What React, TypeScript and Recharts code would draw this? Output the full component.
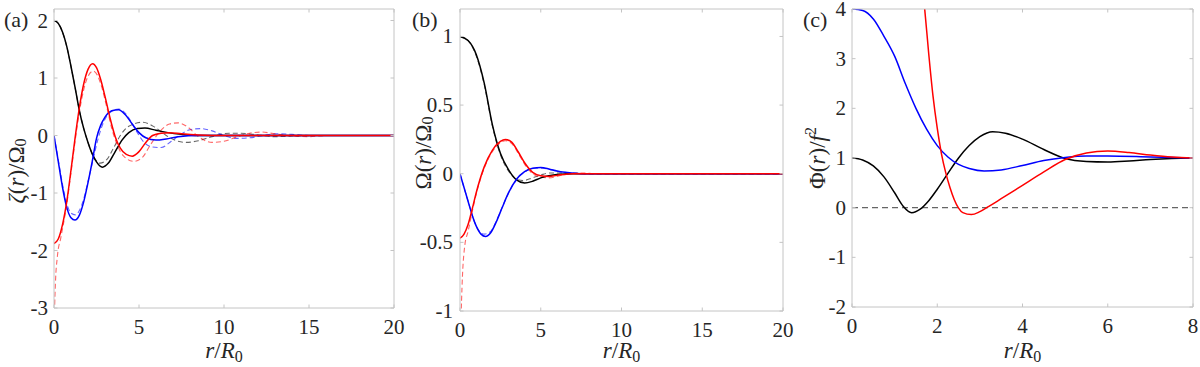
import React from 'react';
import { LineChart, Line, XAxis, YAxis, ReferenceLine } from 'recharts';

type Pt = [number, number];

// panel (a): zeta(r)/Omega0
const aBlack: Pt[] = [[0, 2.0], [0.25, 1.95], [0.5, 1.8], [0.75, 1.55], [1.0, 1.2], [1.25, 0.82], [1.5, 0.42], [1.75, 0.12], [2.0, -0.12], [2.25, -0.32], [2.5, -0.46], [2.85, -0.55], [3.2, -0.48], [3.6, -0.28], [4.0, -0.08], [4.4, 0.05], [4.9, 0.12], [5.35, 0.13], [6.0, 0.09], [6.7, 0.05], [7.5, 0.02], [8.5, 0], [20, 0]];
const aBlackDash: Pt[] = [[0, 2.0], [0.25, 1.95], [0.5, 1.8], [0.75, 1.55], [1.0, 1.2], [1.25, 0.82], [1.5, 0.43], [1.75, 0.12], [2.0, -0.12], [2.3, -0.35], [2.7, -0.48], [3.1, -0.42], [3.5, -0.22], [3.9, 0.0], [4.4, 0.16], [5.2, 0.23], [5.9, 0.15], [6.6, 0.0], [7.2, -0.09], [7.8, -0.12], [8.5, -0.09], [9.3, -0.02], [10.3, 0.04], [11, 0.04], [12, 0.01], [13, -0.02], [14, -0.01], [15.5, 0], [20, 0]];
const aRed: Pt[] = [[0, -1.88], [0.25, -1.8], [0.5, -1.55], [0.75, -1.15], [1.0, -0.6], [1.25, -0.02], [1.5, 0.5], [1.75, 0.9], [2.0, 1.15], [2.27, 1.25], [2.5, 1.18], [2.75, 0.97], [3.0, 0.68], [3.3, 0.3], [3.6, -0.02], [3.9, -0.22], [4.25, -0.33], [4.6, -0.36], [5.0, -0.28], [5.4, -0.12], [5.8, 0.0], [6.3, 0.04], [6.8, 0.05], [7.5, 0.03], [8.5, 0.01], [10, 0], [20, 0]];
const aRedDash: Pt[] = [[0.01, -3.5], [0.03, -3.1], [0.08, -2.6], [0.2, -2.1], [0.4, -1.78], [0.75, -1.2], [1.0, -0.65], [1.25, -0.08], [1.5, 0.42], [1.75, 0.8], [2.0, 1.03], [2.3, 1.12], [2.55, 1.05], [2.8, 0.85], [3.1, 0.5], [3.4, 0.12], [3.7, -0.15], [4.1, -0.36], [4.7, -0.45], [5.2, -0.38], [5.7, -0.15], [6.2, 0.06], [6.8, 0.2], [7.3, 0.22], [7.9, 0.14], [8.5, -0.02], [9.3, -0.12], [10, -0.1], [10.8, -0.02], [11.5, 0.04], [12.2, 0.06], [13, 0.03], [14, -0.01], [15, -0.02], [16, 0], [20, 0]];
const aBlue: Pt[] = [[0, 0], [0.25, -0.45], [0.5, -0.9], [0.75, -1.25], [1.0, -1.43], [1.23, -1.47], [1.5, -1.38], [1.75, -1.15], [2.0, -0.82], [2.25, -0.45], [2.5, -0.05], [2.75, 0.18], [3.0, 0.32], [3.4, 0.43], [3.8, 0.45], [4.2, 0.36], [4.6, 0.2], [5.0, 0.05], [5.4, -0.04], [6.0, -0.08], [6.6, -0.06], [7.3, -0.02], [8.5, 0], [20, 0]];
const aBlueDash: Pt[] = [[0, 0], [0.25, -0.42], [0.5, -0.85], [0.75, -1.18], [1.0, -1.35], [1.25, -1.38], [1.5, -1.3], [1.75, -1.1], [2.0, -0.8], [2.3, -0.42], [2.6, -0.05], [2.9, 0.22], [3.3, 0.4], [3.8, 0.46], [4.3, 0.35], [4.8, 0.1], [5.3, -0.12], [5.8, -0.2], [6.3, -0.21], [6.9, -0.1], [7.5, 0.03], [8.0, 0.1], [8.6, 0.12], [9.3, 0.08], [10, 0], [10.7, -0.05], [11.5, -0.04], [12.3, 0], [13, 0.03], [14, 0.02], [15, 0], [20, 0]];

// panel (b): Omega(r)/Omega0
const bBlack: Pt[] = [[0, 1.0], [0.5, 0.97], [1.0, 0.87], [1.5, 0.66], [2.0, 0.36], [2.5, 0.15], [3.0, 0.03], [3.5, -0.045], [4.0, -0.068], [4.5, -0.055], [5.0, -0.03], [5.5, -0.015], [6.0, -0.005], [7.0, 0], [20, 0]];
const bBlackDash: Pt[] = [[0, 1.0], [0.5, 0.97], [1.0, 0.86], [1.5, 0.65], [2.0, 0.35], [2.5, 0.14], [3.0, 0.02], [3.5, -0.04], [3.9, -0.05], [4.5, -0.03], [5.0, -0.01], [5.5, 0.005], [6.5, 0.005], [8, 0], [20, 0]];
const bRed: Pt[] = [[0, -0.47], [0.25, -0.44], [0.5, -0.37], [0.75, -0.26], [1.0, -0.14], [1.5, 0.05], [2.0, 0.17], [2.5, 0.235], [2.8, 0.25], [3.2, 0.23], [3.6, 0.16], [4.0, 0.08], [4.5, 0.01], [5.0, -0.015], [5.5, -0.02], [6.0, -0.012], [7.0, 0], [20, 0]];
const bRedDash: Pt[] = [[0.05, -1.1], [0.15, -0.75], [0.3, -0.52], [0.5, -0.42], [0.75, -0.28], [1.0, -0.15], [1.5, 0.04], [2.0, 0.16], [2.5, 0.225], [2.8, 0.24], [3.2, 0.22], [3.6, 0.15], [4.0, 0.07], [4.5, 0.0], [5.0, -0.025], [5.5, -0.03], [6.0, -0.02], [6.5, -0.005], [7.5, 0.005], [8.5, 0], [20, 0]];
const bBlue: Pt[] = [[0, 0], [0.25, -0.1], [0.5, -0.2], [0.75, -0.3], [1.0, -0.38], [1.3, -0.44], [1.58, -0.457], [1.9, -0.43], [2.25, -0.35], [2.6, -0.25], [3.0, -0.14], [3.5, -0.04], [4.0, 0.015], [4.5, 0.04], [5.0, 0.045], [5.5, 0.035], [6.0, 0.02], [6.5, 0.01], [7.5, 0], [20, 0]];
const bBlueDash: Pt[] = [[0, 0], [0.5, -0.2], [1.0, -0.38], [1.5, -0.44], [1.9, -0.42], [2.3, -0.33], [2.7, -0.22], [3.1, -0.12], [3.6, -0.03], [4.1, 0.02], [4.6, 0.04], [5.1, 0.04], [5.6, 0.03], [6.2, 0.015], [7, 0.005], [8, 0], [20, 0]];

// panel (c): Phi(r)/f^2
const cBlack: Pt[] = [[0, 1], [0.25, 0.96], [0.5, 0.84], [0.75, 0.62], [1.0, 0.3], [1.2, 0.03], [1.4, -0.1], [1.6, -0.03], [1.8, 0.14], [2.0, 0.37], [2.25, 0.69], [2.5, 1.0], [2.75, 1.25], [3.0, 1.43], [3.3, 1.53], [3.6, 1.5], [4.0, 1.38], [4.5, 1.17], [5.0, 0.99], [5.5, 0.93], [6.0, 0.92], [6.5, 0.94], [7.0, 0.97], [7.5, 0.99], [8, 1.0]];
const cBlue: Pt[] = [[0, 4.0], [0.25, 3.97], [0.5, 3.8], [0.75, 3.45], [1.0, 3.05], [1.25, 2.5], [1.5, 2.0], [1.75, 1.58], [2.0, 1.25], [2.25, 1.02], [2.5, 0.87], [2.75, 0.79], [3.1, 0.74], [3.5, 0.76], [4.0, 0.85], [4.5, 0.95], [5.0, 1.01], [5.5, 1.04], [6.0, 1.04], [7.0, 1.02], [8, 1.0]];
const cRed: Pt[] = [[1.6, 4.8], [1.7, 4.05], [1.8, 3.1], [1.9, 2.25], [2.0, 1.6], [2.1, 1.08], [2.2, 0.7], [2.3, 0.4], [2.4, 0.16], [2.5, -0.01], [2.6, -0.1], [2.8, -0.14], [3.0, -0.08], [3.2, 0.02], [3.5, 0.18], [4.0, 0.45], [4.5, 0.72], [5.0, 0.97], [5.5, 1.1], [6.0, 1.14], [6.5, 1.11], [7.0, 1.06], [7.5, 1.02], [8, 1.0]];

const ticks20 = [0, 5, 10, 15, 20];
const ticks8 = [0, 2, 4, 6, 8];
const aYTicks = [-3, -2, -1, 0, 1, 2];
const bYTicks = [-1, -0.5, 0, 0.5, 1];
const cYTicks = [-2, -1, 0, 1, 2, 3, 4];

const FONT = "'Liberation Serif', 'Times New Roman', 'DejaVu Serif', serif";
const AXIS = '#c4c4c4';
const INK = '#262626';
const TICK_LEN = 3.5;
const FS = 21;
const txt = { fontFamily: FONT, fill: INK };

const rows = (pts: Pt[]) => pts.map(([x, y]) => ({ x, y }));

type Series = { data: Pt[]; color: string; dashed?: boolean };

const leftTick = (gap: number) => (props: any) => {
  const { x, y, payload } = props;
  return (
    <g>
      <line x1={x} x2={x + TICK_LEN} y1={y} y2={y} stroke={AXIS} />
      <text x={x - gap} y={y} textAnchor="end" dominantBaseline="central" fontFamily={FONT} style={{ ...txt, fontSize: FS }}>
        {String(payload.value)}
      </text>
    </g>
  );
};

const bottomTick = (props: any) => {
  const { x, y, payload } = props;
  return (
    <g>
      <line x1={x} x2={x} y1={y} y2={y - TICK_LEN} stroke={AXIS} />
      <text x={x} y={y + 26} textAnchor="middle" fontFamily={FONT} style={{ ...txt, fontSize: FS }}>
        {String(payload.value)}
      </text>
    </g>
  );
};

const topTick = (props: any) => (
  <line x1={props.x} x2={props.x} y1={props.y} y2={props.y + TICK_LEN} stroke={AXIS} />
);

const rightTick = (props: any) => (
  <line x1={props.x} x2={props.x - TICK_LEN} y1={props.y} y2={props.y} stroke={AXIS} />
);

interface PanelProps {
  left: number;
  width: number;
  yAxisWidth: number;
  rightMargin: number;
  xAxisHeight: number;
  xMax: number;
  yDomain: [number, number];
  xTicks: number[];
  yTicks: number[];
  series: Series[];
  letter: string;
  letterX: number;
  yLabel: React.ReactNode;
  yLabelX: number;
  yLabelY: number;
  tickGap: number;
  zeroLine?: boolean;
}

function Panel(p: PanelProps) {
  const xLabel = (props: any) => {
    const vb = props.viewBox;
    return (
      <text x={vb.x + vb.width / 2} y={358} textAnchor="middle" fontFamily={FONT} style={{ ...txt, fontSize: 23 }}>
        <tspan fontStyle="italic">r</tspan>
        <tspan>/</tspan>
        <tspan fontStyle="italic">R</tspan>
        <tspan fontSize={16} dy={4}>0</tspan>
      </text>
    );
  };
  const letterLabel = () => (
    <text x={p.letterX} y={27} fontFamily={FONT} style={{ ...txt, fontSize: 22 }}>
      {p.letter}
    </text>
  );
  const yLabel = () => (
    <text
      x={p.yLabelX}
      y={p.yLabelY}
      transform={`rotate(-90, ${p.yLabelX}, ${p.yLabelY})`}
      textAnchor="middle"
      dominantBaseline="central"
      fontFamily={FONT}
      style={{ ...txt, fontSize: 23 }}
    >
      {p.yLabel}
    </text>
  );

  return (
    <div style={{ position: 'absolute', left: p.left, top: 0 }}>
      <LineChart width={p.width} height={367} margin={{ top: 8, right: p.rightMargin, bottom: 0, left: 0 }}>
        <XAxis
          xAxisId="b"
          type="number"
          dataKey="x"
          domain={[0, p.xMax]}
          allowDataOverflow
          ticks={p.xTicks}
          interval={0}
          height={p.xAxisHeight}
          tickSize={0}
          tickMargin={0}
          tickLine={false}
          axisLine={{ stroke: AXIS }}
          tick={bottomTick}
          label={xLabel}
        />
        <XAxis
          xAxisId="t"
          orientation="top"
          type="number"
          dataKey="x"
          domain={[0, p.xMax]}
          allowDataOverflow
          ticks={p.xTicks}
          interval={0}
          height={1}
          tickSize={0}
          tickMargin={0}
          tickLine={false}
          axisLine={{ stroke: AXIS }}
          tick={topTick}
          label={letterLabel}
        />
        <YAxis
          yAxisId="l"
          type="number"
          domain={p.yDomain}
          allowDataOverflow
          ticks={p.yTicks}
          interval={0}
          width={p.yAxisWidth}
          tickSize={0}
          tickMargin={0}
          tickLine={false}
          axisLine={{ stroke: AXIS }}
          tick={leftTick(p.tickGap)}
          label={yLabel}
        />
        <YAxis
          yAxisId="r"
          orientation="right"
          type="number"
          domain={p.yDomain}
          allowDataOverflow
          ticks={p.yTicks}
          interval={0}
          width={1}
          tickSize={0}
          tickMargin={0}
          tickLine={false}
          axisLine={{ stroke: AXIS }}
          tick={rightTick}
        />
        {p.zeroLine && (
          <ReferenceLine xAxisId="b" yAxisId="l" y={0} stroke="#666666" strokeWidth={1.2} strokeDasharray="6 4" />
        )}
        {/* invisible copy so the top/right frame axes have a series */}
        <Line
          xAxisId="t"
          yAxisId="r"
          data={rows(p.series[0].data)}
          dataKey="y"
          stroke="none"
          dot={false}
          activeDot={false}
          legendType="none"
          isAnimationActive={false}
        />
        {p.series.map((s, i) => (
          <Line
            key={i}
            xAxisId="b"
            yAxisId="l"
            data={rows(s.data)}
            dataKey="y"
            type="monotone"
            stroke={s.color}
            strokeWidth={s.dashed ? 1.1 : 1.5}
            strokeOpacity={s.dashed ? 0.6 : 1}
            strokeDasharray={s.dashed ? '5 3' : undefined}
            dot={false}
            activeDot={false}
            isAnimationActive={false}
          />
        ))}
      </LineChart>
    </div>
  );
}

export default function App() {
  return (
    <div style={{ position: 'absolute', left: 0, top: 0, width: 1200, height: 367, background: '#ffffff' }}>
      <Panel
        left={0}
        width={420}
        yAxisWidth={54}
        rightMargin={25}
        xAxisHeight={59}
        xMax={20}
        yDomain={[-3, 2.2]}
        xTicks={ticks20}
        yTicks={aYTicks}
        tickGap={6}
        letter="(a)"
        letterX={4}
        yLabelX={16}
        yLabelY={171}
        yLabel={
          <>
            <tspan fontStyle="italic">ζ</tspan>
            <tspan>(</tspan>
            <tspan fontStyle="italic">r</tspan>
            <tspan>)/Ω</tspan>
            <tspan fontSize={16} dy={4}>0</tspan>
          </>
        }
        series={[
          { data: aBlackDash, color: '#000000', dashed: true },
          { data: aBlueDash, color: '#0000ff', dashed: true },
          { data: aRedDash, color: '#ff0000', dashed: true },
          { data: aBlack, color: '#000000' },
          { data: aBlue, color: '#0000ff' },
          { data: aRed, color: '#ff0000' },
        ]}
      />
      <Panel
        left={400}
        width={420}
        yAxisWidth={60}
        rightMargin={36}
        xAxisHeight={56}
        xMax={20}
        yDomain={[-1, 1.2]}
        xTicks={ticks20}
        yTicks={bYTicks}
        tickGap={7}
        letter="(b)"
        letterX={12}
        yLabelX={23}
        yLabelY={153}
        yLabel={
          <>
            <tspan>Ω(</tspan>
            <tspan fontStyle="italic">r</tspan>
            <tspan>)/Ω</tspan>
            <tspan fontSize={16} dy={4}>0</tspan>
          </>
        }
        series={[
          { data: bBlackDash, color: '#000000', dashed: true },
          { data: bBlueDash, color: '#0000ff', dashed: true },
          { data: bRedDash, color: '#ff0000', dashed: true },
          { data: bBlack, color: '#000000' },
          { data: bBlue, color: '#0000ff' },
          { data: bRed, color: '#ff0000' },
        ]}
      />
      <Panel
        left={800}
        width={400}
        yAxisWidth={52}
        rightMargin={6}
        xAxisHeight={60}
        xMax={8}
        yDomain={[-2, 4]}
        xTicks={ticks8}
        yTicks={cYTicks}
        tickGap={6}
        letter="(c)"
        letterX={3}
        yLabelX={17}
        yLabelY={158}
        zeroLine
        yLabel={
          <>
            <tspan>Φ(</tspan>
            <tspan fontStyle="italic">r</tspan>
            <tspan>)/</tspan>
            <tspan fontStyle="italic">f</tspan>
            <tspan fontSize={16} dy={-7}>2</tspan>
          </>
        }
        series={[
          { data: cBlack, color: '#000000' },
          { data: cBlue, color: '#0000ff' },
          { data: cRed, color: '#ff0000' },
        ]}
      />
    </div>
  );
}
